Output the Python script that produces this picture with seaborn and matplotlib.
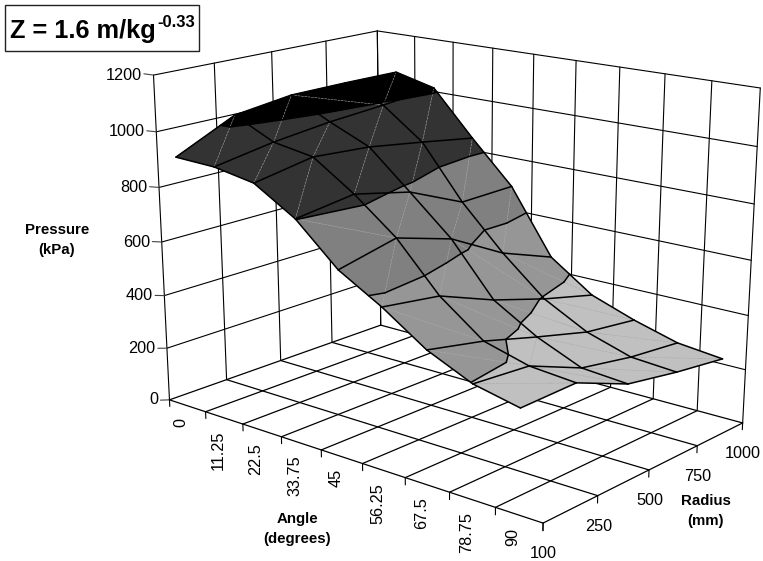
import numpy as np
import matplotlib
matplotlib.use('Agg')
import matplotlib.pyplot as plt
import seaborn as sns
from matplotlib.patches import Rectangle
from mpl_toolkits.mplot3d.art3d import Poly3DCollection, Line3DCollection

# valores (kPa), linhas = angulo, colunas = raio
angles = ['0', '11.25', '22.5', '33.75', '45', '56.25', '67.5', '78.75', '90']
radii = ['100', '250', '500', '750', '1000']
pressure = [
    [924, 1025, 1052, 1053, 1051],
    [919, 955, 979, 994, 1014],
    [893, 931, 915, 882, 847],
    [802, 830, 781, 687, 690],
    [662, 709, 644, 529, 450],
    [573, 542, 459, 394, 340],
    [468, 424, 365, 310, 283],
    [397, 380, 296, 259, 237],
    [362, 366, 283, 247, 219],
]
pressure_ticks = [0, 200, 400, 600, 800, 1000, 1200]
band_edges = [200, 400, 600, 800, 1000, 1200]
band_colors = ['#c0c0c0', '#969696', '#808080', '#333333', '#000000']
# dobra de cada quadrilatero: 1 = "/", 2 = "\"
folds = [
    [1, 1, 2, 1],
    [1, 1, 1, 1],
    [1, 1, 1, 1],
    [2, 1, 1, 1],
    [1, 1, 2, 2],
    [2, 2, 2, 2],
    [2, 1, 2, 2],
    [2, 2, 2, 2],
]

W, H = 763, 561
sns.set_theme(style='white')
plt.rcParams['font.family'] = ['Liberation Sans', 'DejaVu Sans']

fig = plt.figure(figsize=(W / 100, H / 100), dpi=100, facecolor='white')
ax = fig.add_axes([0, -(W - H) / 2 / H, 1, W / H], projection='3d', computed_zorder=False)
ax.apply_aspect()
ax.set_axis_off()

n_x, n_y, z_top = len(angles), len(radii) - 1, pressure_ticks[-1]

# camera ajustada aos cantos da caixa do grafico original
world = [(0, 0, 0), (n_x, 0, 0), (0, n_y, 0), (n_x, n_y, 0), (0, 0, z_top), (0, n_y, z_top), (n_x, n_y, z_top)]
pixel = [(170, 400), (543, 523), (380, 325), (743, 423), (153, 75), (378, 31), (760, 88)]
A = []
for (x, y, z), (u, v) in zip(world, pixel):
    A.append([x, y, z, 1, 0, 0, 0, 0, -u * x, -u * y, -u * z, -u])
    A.append([0, 0, 0, 0, x, y, z, 1, -v * x, -v * y, -v * z, -v])
P = np.linalg.svd(np.array(A, float))[2][-1].reshape(3, 4)
P = P / (P[2] @ np.array([n_x / 2, n_y / 2, 0, 1]))

inv = ax.transData.inverted()
p0 = inv.transform((0, H))
p1 = inv.transform((1, H - 1))
sx, sy = p1 - p0
M = np.array([
    sx * P[0] + p0[0] * P[2],
    sy * P[1] + p0[1] * P[2],
    P[2] - np.array([0, 0, 0, 1]),
    P[2],
])
ax.get_proj = lambda: M


def add_lines(segs, lw=0.8, color='black', zorder=1, **kw):
    ax.add_collection3d(Line3DCollection(segs, colors=color, linewidths=lw, zorder=zorder,
                                         capstyle='round', **kw), autolim=False)


def label(x, y, z, dx, dy, text, **kw):
    q = P @ np.array([x, y, z, 1])
    fig.text((q[0] / q[2] + dx) / W, 1 - (q[1] / q[2] + dy) / H, text, color='black', **kw)


# paredes
walls, z_marks = [], []
for x in range(n_x + 1):
    walls.append([(x, n_y, 0), (x, n_y, z_top)])
for y in range(n_y + 1):
    walls.append([(0, y, 0), (0, y, z_top)])
for z in pressure_ticks:
    if z > 0:
        walls.append([(0, 0, z), (0, n_y, z)])
        walls.append([(0, n_y, z), (n_x, n_y, z)])
    z_marks.append([(0, 0, z), (0, -0.15, z + 11)])
    label(0, 0, z, -11.5, 0, str(z), ha='right', va='center', fontsize=11.7)
add_lines(walls, lw=0.8)
add_lines(z_marks, lw=0.8, color='#444444')

# piso e marcas dos eixos
floor, marks = [], []
for x in range(n_x + 1):
    floor.append([(x, 0, 0), (x, n_y, 0)])
    marks.append([(x, 0, 0), (x, 0, -26)])
for y in range(n_y + 1):
    floor.append([(0, y, 0), (n_x, y, 0)])
    marks.append([(n_x, y, 0), (n_x, y, -26)])
add_lines(floor, lw=0.9)
add_lines(marks, lw=0.8)
for k, name in enumerate(angles):
    label(k + 0.5, 0, 0, -6, 12.5, name, rotation=90, ha='center', va='top', fontsize=11.7)
for j, name in enumerate(radii):
    label(n_x, j, 0, 0.5, 30.5, name, ha='center', va='center', fontsize=11.7)


# recorta um triangulo dentro de uma faixa de pressao
def clip(poly, level, keep_above):
    out = []
    for a, b in zip(poly, poly[1:] + poly[:1]):
        ina = (a[2] >= level) == keep_above
        inb = (b[2] >= level) == keep_above
        if ina:
            out.append(a)
        if ina != inb:
            t = (level - a[2]) / (b[2] - a[2])
            out.append(tuple(a[i] + t * (b[i] - a[i]) for i in range(3)))
    return out


vals = np.array(pressure, float)
polys, faces, contours, diagonals = [], [], [], []
for k in range(n_x - 1):
    for j in range(n_y):
        c = [(k + 0.5, j, vals[k, j]), (k + 1.5, j, vals[k + 1, j]),
             (k + 1.5, j + 1, vals[k + 1, j + 1]), (k + 0.5, j + 1, vals[k, j + 1])]
        if folds[k][j] == 1:
            tris = [[c[0], c[1], c[3]], [c[1], c[2], c[3]]]
            diagonals.append([c[1], c[3]])
        else:
            tris = [[c[0], c[1], c[2]], [c[0], c[2], c[3]]]
            diagonals.append([c[0], c[2]])
        for tri in tris:
            for b, col in enumerate(band_colors):
                piece = clip(clip(tri, band_edges[b], True), band_edges[b + 1], False)
                if len(piece) >= 3:
                    polys.append(piece)
                    faces.append(col)
            for level in band_edges[1:-1]:
                above = clip(tri, level, True)
                pts = [p for p in above if abs(p[2] - level) < 1e-9]
                if len(pts) == 2:
                    contours.append(pts)

ax.add_collection3d(Poly3DCollection(polys, facecolors=faces, edgecolors=faces,
                                     linewidths=0.4, zorder=2), autolim=False)

add_lines(diagonals, lw=0.4, color='#a8a8a8', zorder=3, linestyles=[(0, (4, 2))])
xc = np.arange(n_x) + 0.5
grid = contours[:]
for j in range(n_y + 1):
    grid += [[(xc[k], j, vals[k, j]), (xc[k + 1], j, vals[k + 1, j])] for k in range(n_x - 1)]
for k in range(n_x):
    grid += [[(xc[k], j, vals[k, j]), (xc[k], j + 1, vals[k, j + 1])] for j in range(n_y)]
add_lines(grid, lw=1.1, zorder=4)

# titulos dos eixos
bold = dict(fontsize=10.8, fontweight='bold', ha='center', va='center', linespacing=1.55, color='black')
fig.text(57 / W, 1 - 240 / H, 'Pressure\n(kPa)', **bold)
fig.text(297 / W, 1 - 529 / H, 'Angle\n(degrees)', **bold)
fig.text(706 / W, 1 - 511 / H, 'Radius\n(mm)', **bold)

# caixa com o valor de Z
fig.add_artist(Rectangle((5 / W, 1 - 51 / H), 194 / W, 46 / H, transform=fig.transFigure,
                         facecolor='white', edgecolor='#222222', lw=1.0))
fig.text(10 / W, 1 - 38 / H, 'Z = 1.6 m/kg', fontsize=18.3, fontweight='bold',
         ha='left', va='baseline', color='black')
fig.text(157 / W, 1 - 27 / H, '-0.33', fontsize=12, fontweight='bold',
         ha='left', va='baseline', color='black')

fig.savefig('out.png', dpi=100)
